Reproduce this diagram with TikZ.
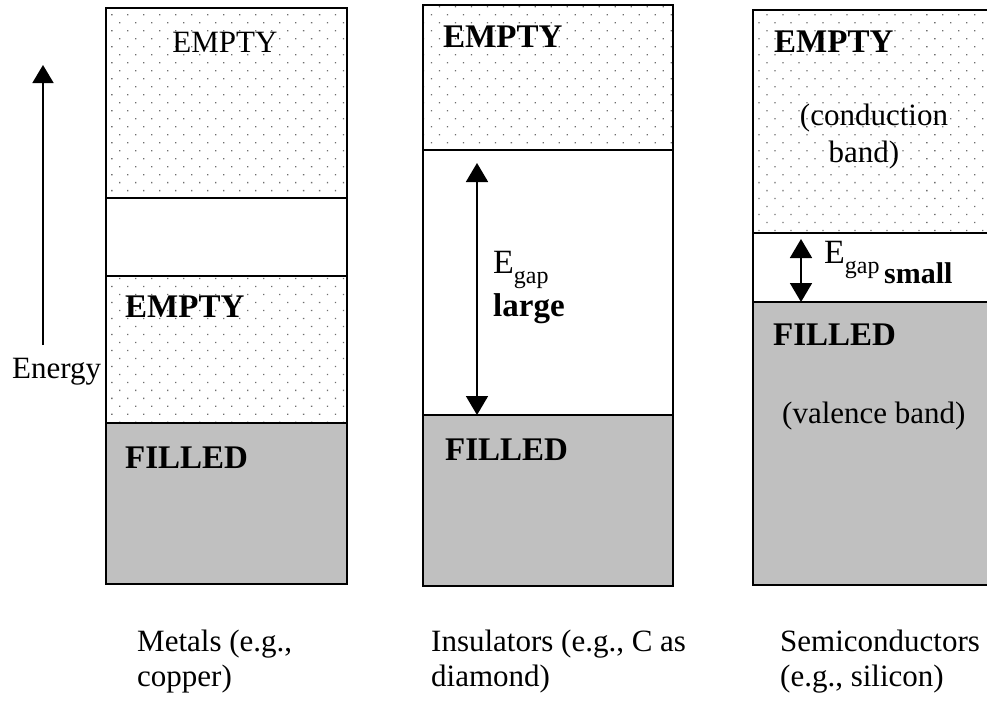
\documentclass[tikz,border=0pt]{standalone}
\usepackage{fontspec}
\setmainfont{Liberation Serif}
\usepackage{xcolor}
\usetikzlibrary{arrows.meta,patterns.meta}
\definecolor{filledgrey}{RGB}{192,192,192}
\definecolor{dotgrey}{RGB}{110,110,110}
\newcommand\txtsize{\fontsize{31}{35}\selectfont}
\newcommand\boldsize{\fontsize{33}{36}\selectfont\bfseries}
\newcommand\egap{{\fontsize{34}{36}\selectfont E\raisebox{-10pt}{\fontsize{24}{26}\selectfont gap}}}

\begin{document}
\begin{tikzpicture}[
  x=1pt, y=-1pt,
  band/.style={draw=black, line width=1.4pt},
  emptyband/.style={band, pattern={Dots[distance=11.3pt, radius=0.9pt, angle=45]}, pattern color=dotgrey},
  gapband/.style={band, fill=white},
  filledband/.style={band, fill=filledgrey},
  shade/.style={line width=2.6pt},
  txt/.style={anchor=base west, inner sep=0pt, font=\txtsize},
  lbl/.style={anchor=base west, inner sep=0pt, font=\boldsize},
  arr/.style={-{Triangle[width=21pt, length=18pt]}, line width=1.8pt},
  gaparr/.style={{Triangle[width=22pt, length=19pt]}-{Triangle[width=22pt, length=19pt]}, line width=1.8pt}
]
  \useasboundingbox (0,0) rectangle (987,702);
  \clip (0,0) rectangle (987,702);

  % metals
  \draw[emptyband] (106,8) rectangle (347,198);
  \draw[gapband] (106,198) rectangle (347,276);
  \draw[emptyband] (106,276) rectangle (347,423);
  \draw[filledband] (106,423) rectangle (347,584);
  \draw[shade] (106,8) -- (347,8) -- (347,584) -- (106,584);

  % insulators
  \draw[emptyband] (423,5) rectangle (673,150);
  \draw[gapband] (423,150) rectangle (673,415);
  \draw[filledband] (423,415) rectangle (673,586);
  \draw[shade] (673,5) -- (673,586) -- (423,586);

  % semiconductors
  \draw[emptyband] (753,10) rectangle (1000,233);
  \draw[gapband] (753,233) rectangle (1000,302);
  \draw[filledband] (753,302) rectangle (1000,585);
  \draw[shade] (753,585) -- (1000,585);

  % band labels
  \node[txt, anchor=base] (metal-top) at (225,52) {EMPTY};
  \node[lbl] (metal-empty) at (125,317) {EMPTY};
  \node[lbl] (metal-filled) at (125,468) {FILLED};
  \node[lbl] (ins-empty) at (443,47) {EMPTY};
  \node[lbl] (ins-filled) at (445,460) {FILLED};
  \node[txt] (ins-egap) at (493,273) {\egap};
  \node[lbl] (ins-large) at (493,316) {large};
  \node[lbl] (semi-empty) at (774,52) {EMPTY};
  \node[txt, anchor=base] (semi-cond) at (874,125) {(conduction};
  \node[txt, anchor=base] (semi-band) at (864,162) {band)};
  \node[txt] (semi-egap) at (824,263) {\egap};
  \node[lbl, font=\fontsize{30}{34}\selectfont\bfseries] (semi-small) at (884,283) {small};
  \node[lbl] (semi-filled) at (773,345) {FILLED};
  \node[txt] (semi-val) at (782,423) {(valence band)};

  % energy axis
  \node[txt] (energy) at (12,378) {Energy};
  \coordinate (energy-lo) at (43,345);
  \coordinate (energy-hi) at (43,65);
  \draw[arr] (energy-lo) -- (energy-hi);

  % gap arrows
  \coordinate (ins-gap-top) at (477,163);
  \coordinate (ins-gap-bot) at (477,415);
  \draw[gaparr] (ins-gap-top) -- (ins-gap-bot);
  \coordinate (semi-gap-top) at (801,239);
  \coordinate (semi-gap-bot) at (801,302);
  \draw[gaparr] (semi-gap-top) -- (semi-gap-bot);

  % captions
  \node[txt] (metal-cap) at (137,651) {Metals (e.g.,};
  \node[txt] (metal-cap2) at (137,686) {copper)};
  \node[txt] (ins-cap) at (431,651) {Insulators (e.g., C as};
  \node[txt] (ins-cap2) at (431,686) {diamond)};
  \node[txt] (semi-cap) at (780,651) {Semiconductors};
  \node[txt] (semi-cap2) at (780,686) {(e.g., silicon)};
\end{tikzpicture}
\end{document}
